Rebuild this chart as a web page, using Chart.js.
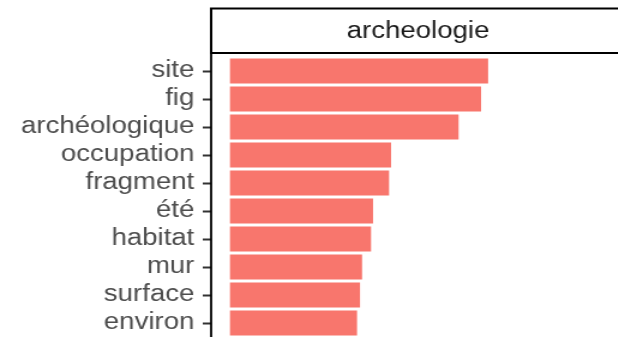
<!DOCTYPE html>
<html>
<head>
<meta charset="utf-8">
<script src="https://cdn.jsdelivr.net/npm/chart.js@4/dist/chart.umd.min.js"></script>
<style>
  html, body { margin: 0; padding: 0; background: #fff; overflow: hidden; }
  #wrap { width: 618px; height: 337px; overflow: hidden; }
</style>
</head>
<body>
<div id="wrap">
  <canvas id="chart" width="521" height="337" style="display:block;width:625.2px;height:337px"></canvas>
</div>
<script>
// top words for the discipline, most frequent first
const facet = "archeologie";
const words = ["site", "fig", "archéologique", "occupation", "fragment", "été", "habitat", "mur", "surface", "environ"];
const counts = [516, 502, 457, 322, 318, 286, 282, 264, 260, 254];
// shared x range across facets (largest count elsewhere ~752, 5% expansion)
const xMin = -37.6;
const xMax = 789.6;

const FONT = "'Liberation Sans', Arial, Helvetica, sans-serif";

// facet strip + full-height axis line
const stripPlugin = {
  id: "strip",
  afterDraw(chart) {
    const { ctx, chartArea } = chart;
    const top = 8.5, bottom = 53;
    ctx.save();
    ctx.fillStyle = "#ffffff";
    ctx.fillRect(chartArea.left, top, chart.width - chartArea.left + 10, bottom - top);
    ctx.strokeStyle = "#000000";
    ctx.lineWidth = 2;
    ctx.strokeRect(chartArea.left, top, chart.width - chartArea.left + 10, bottom - top);

    ctx.fillStyle = "#1a1a1a";
    ctx.font = "23px " + FONT;
    ctx.textAlign = "center";
    ctx.textBaseline = "alphabetic";
    ctx.fillText(facet, (chartArea.left + chartArea.right) / 2, 38);

    ctx.beginPath();
    ctx.lineWidth = 1.8;
    ctx.moveTo(chartArea.left, bottom);
    ctx.lineTo(chartArea.left, chart.height + 2);
    ctx.stroke();
    ctx.restore();
  }
};

new Chart(document.getElementById("chart"), {
  type: "bar",
  data: {
    labels: words,
    datasets: [
      {
        data: counts,
        backgroundColor: "#F8766D",
        borderWidth: 0,
        barPercentage: 0.9,
        categoryPercentage: 1
      }
    ]
  },
  options: {
    indexAxis: "y",
    responsive: false,
    animation: false,
    layout: { padding: { top: 57, left: 0, right: 0, bottom: 0 } },
    plugins: {
      legend: { display: false },
      tooltip: { enabled: false }
    },
    scales: {
      x: {
        type: "linear",
        min: xMin,
        max: xMax,
        display: false
      },
      y: {
        afterFit(scale) {
          scale.width = 176;
          scale.paddingTop = 0;
          scale.paddingBottom = 0;
        },
        border: { display: false },
        grid: {
          offset: false,
          drawOnChartArea: false,
          drawTicks: true,
          tickLength: 7,
          tickWidth: 2,
          tickColor: "#333333"
        },
        ticks: {
          autoSkip: false,
          color: "#4d4d4d",
          padding: 7,
          font: { family: FONT, size: 23 }
        }
      }
    }
  },
  plugins: [stripPlugin]
});
</script>
</body>
</html>
